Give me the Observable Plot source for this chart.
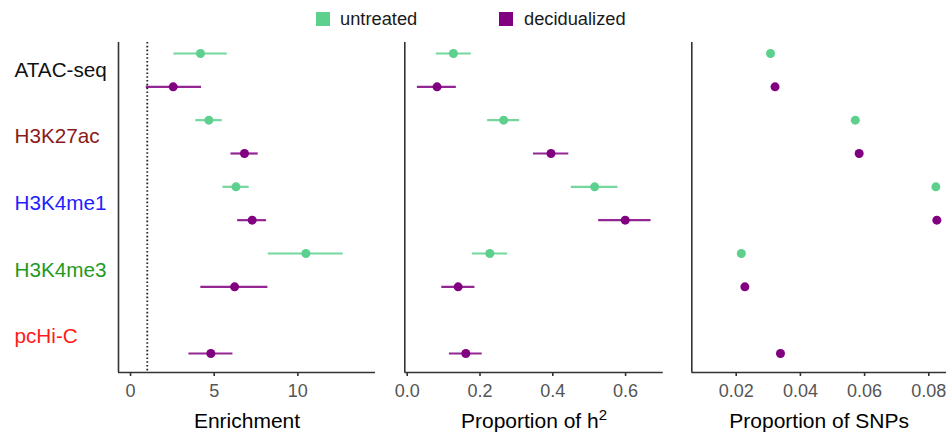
<!DOCTYPE html>
<html>
<head>
<meta charset="utf-8">
<script src="https://cdn.jsdelivr.net/npm/d3@7"></script>
<script src="https://cdn.jsdelivr.net/npm/@observablehq/plot@0.6"></script>
<style>
  html, body { margin: 0; padding: 0; background: #fff; }
  body { width: 946px; height: 434px; overflow: hidden; font-family: "Liberation Sans", Arial, sans-serif; }
  #wrap { position: relative; width: 946px; height: 434px; }
  #legend { position: absolute; left: 0; top: 0; width: 946px; height: 36px; }
  .sw { position: absolute; width: 14px; height: 14px; top: 12px; }
  .lt { position: absolute; top: 8px; font-size: 18.3px; color: #1a1a1a; line-height: 22px; }
  .panel { position: absolute; top: 36px; }
  .panel svg { overflow: visible; }
</style>
</head>
<body>
<div id="wrap">
  <div id="legend"></div>
  <div class="panel" id="p1" style="left:0px"></div>
  <div class="panel" id="p2" style="left:380px"></div>
  <div class="panel" id="p3" style="left:670px"></div>
</div>
<script>
// ---------------- data ----------------
const categories = ["ATAC-seq", "H3K27ac", "H3K4me1", "H3K4me3", "pcHi-C"];
const conditions = ["untreated", "decidualized"];

const enrichUntreated   = [4.18, 4.68, 6.30, 10.48, null];
const enrichUntreatedLo = [2.59, 3.90, 5.52, 8.23, null];
const enrichUntreatedHi = [5.78, 5.48, 7.09, 12.71, null];
const enrichDecid       = [2.55, 6.81, 7.27, 6.22, 4.80];
const enrichDecidLo     = [0.94, 6.00, 6.40, 4.20, 3.49];
const enrichDecidHi     = [4.24, 7.63, 8.13, 8.21, 6.12];

const h2Untreated   = [0.127, 0.265, 0.515, 0.227, null];
const h2UntreatedLo = [0.080, 0.221, 0.451, 0.179, null];
const h2UntreatedHi = [0.176, 0.309, 0.579, 0.276, null];
const h2Decid       = [0.082, 0.395, 0.599, 0.140, 0.161];
const h2DecidLo     = [0.028, 0.347, 0.526, 0.095, 0.116];
const h2DecidHi     = [0.135, 0.444, 0.670, 0.186, 0.206];

const snpUntreated = [0.0307, 0.0571, 0.0822, 0.0216, null];
const snpDecid     = [0.0321, 0.0583, 0.0825, 0.0227, 0.0338];

const enrichTicks = [0, 5, 10];
const h2Ticks = [0, 0.2, 0.4, 0.6];
const snpTicks = [0.02, 0.04, 0.06, 0.08];

// ---------------- styles ----------------
const condColor = {untreated: "#5CD08C", decidualized: "#800080"};
const labelColor = {"ATAC-seq": "#111111", "H3K27ac": "#8B1A1A", "H3K4me1": "#1E1EFF", "H3K4me3": "#1F9A1F", "pcHi-C": "#FF1A1A"};
const FONT = "Liberation Sans, Arial, sans-serif";
const AX = "#333333";

function rows(u, uLo, uHi, d, dLo, dHi) {
  const out = [];
  categories.forEach((c, i) => {
    if (u[i] != null) out.push({cat: c, cond: "untreated", row: i * 2, v: u[i], lo: uLo ? uLo[i] : null, hi: uHi ? uHi[i] : null});
    if (d[i] != null) out.push({cat: c, cond: "decidualized", row: i * 2 + 1, v: d[i], lo: dLo ? dLo[i] : null, hi: dHi ? dHi[i] : null});
  });
  return out;
}

const H = 398, MT = 6, MB = 62;
const yDomain = [-0.33, 9.57];

function panel({data, width, ml, mr, xDomain, ticks, fmt, title, labels, refLine, bars}) {
  const marks = [];
  if (refLine != null) marks.push(Plot.ruleX([refLine], {stroke: "#222", strokeWidth: 1.8, strokeDasharray: "1.6,2.2"}));
  if (bars) marks.push(Plot.ruleY(data, {y: "row", x1: "lo", x2: "hi", stroke: d => condColor[d.cond], strokeWidth: 2.2, strokeOpacity: 0.85}));
  marks.push(Plot.dot(data, {y: "row", x: "v", r: 4.5, fill: d => condColor[d.cond], stroke: "none"}));
  marks.push(Plot.ruleX([xDomain[0]], {stroke: AX, strokeWidth: 1.6}));
  marks.push(Plot.ruleY([yDomain[1]], {stroke: AX, strokeWidth: 1.6}));
  marks.push(Plot.axisX({ticks, tickFormat: fmt, tickSize: 4, tickPadding: 8, fontSize: 18, fill: "#555", stroke: AX, strokeWidth: 1.6, label: null}));
  marks.push(Plot.text([title], {frameAnchor: "bottom", dy: 49, fontSize: 21, fill: "#000", lineAnchor: "middle", text: d => d, className: "axtitle"}));
  if (labels) {
    marks.push(Plot.text(categories, {y: (d, i) => i * 2 + 0.5, frameAnchor: "left", textAnchor: "start", dx: -104, fontSize: 20.7, fill: d => labelColor[d], text: d => d}));
  }
  return Plot.plot({
    width, height: H,
    marginLeft: ml, marginRight: mr, marginTop: MT, marginBottom: MB,
    style: {fontFamily: FONT, background: "transparent", overflow: "visible"},
    x: {domain: xDomain, axis: null},
    y: {domain: yDomain, reverse: true, axis: null},
    marks
  });
}

const enrichData = rows(enrichUntreated, enrichUntreatedLo, enrichUntreatedHi, enrichDecid, enrichDecidLo, enrichDecidHi);
const h2Data = rows(h2Untreated, h2UntreatedLo, h2UntreatedHi, h2Decid, h2DecidLo, h2DecidHi);
const snpData = rows(snpUntreated, null, null, snpDecid, null, null);

document.getElementById("p1").append(panel({
  data: enrichData, width: 380, ml: 118, mr: 5, xDomain: [-0.72, 14.64],
  ticks: enrichTicks, fmt: d3.format("d"), title: "Enrichment", labels: true, refLine: 1, bars: true
}));
document.getElementById("p2").append(panel({
  data: h2Data, width: 290, ml: 24.3, mr: 7.3, xDomain: [-0.0066, 0.7033],
  ticks: h2Ticks, fmt: d3.format(".1f"), title: "Proportion of h2", labels: false, refLine: null, bars: true
}));
document.getElementById("p3").append(panel({
  data: snpData, width: 276, ml: 21.3, mr: 0, xDomain: [0.00617, 0.08551],
  ticks: snpTicks, fmt: d3.format(".2f"), title: "Proportion of SNPs", labels: false, refLine: null, bars: false
}));

// superscript for h2 title
d3.select("#p2").selectAll("text").filter(function() { return this.textContent === "Proportion of h2"; })
  .each(function() {
    const t = d3.select(this);
    t.text(null);
    t.append("tspan").text("Proportion of h");
    t.append("tspan").attr("font-size", 15).attr("dy", "-0.55em").text("2");
  });

// legend
const legend = document.getElementById("legend");
const legendPos = {untreated: [316, 340], decidualized: [499, 524]};
conditions.forEach(c => {
  const sw = document.createElement("div");
  sw.className = "sw";
  sw.style.left = legendPos[c][0] + "px";
  sw.style.background = condColor[c];
  legend.append(sw);
  const t = document.createElement("div");
  t.className = "lt";
  t.style.left = legendPos[c][1] + "px";
  t.textContent = c;
  legend.append(t);
});
</script>
</body>
</html>
